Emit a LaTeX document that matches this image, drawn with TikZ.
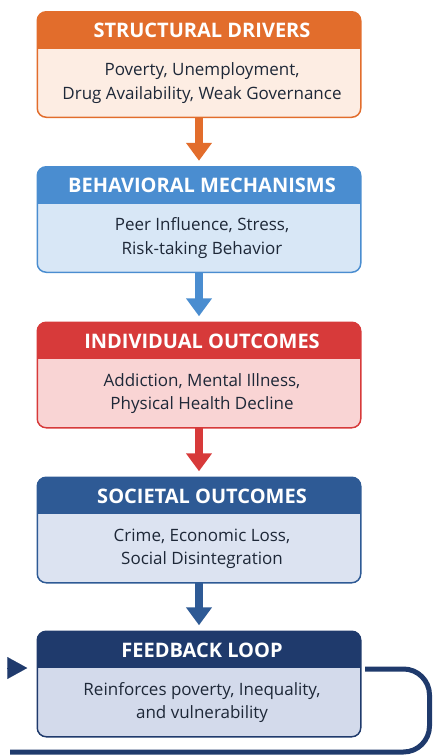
\documentclass[tikz,border=0pt]{standalone}
\usepackage{fontspec}
\setmainfont{Open Sans}
\usetikzlibrary{arrows.meta}

% stage colours: header/border, body fill
\definecolor{orangeH}{HTML}{E26D2C}
\definecolor{orangeB}{HTML}{FDEDE3}
\definecolor{blueH}{HTML}{4A8DD0}
\definecolor{blueB}{HTML}{D8E7F6}
\definecolor{redH}{HTML}{D73A3A}
\definecolor{redB}{HTML}{F9D4D4}
\definecolor{navyH}{HTML}{2E5A95}
\definecolor{navyB}{HTML}{DCE3F1}
\definecolor{darkH}{HTML}{1F3A6C}
\definecolor{darkB}{HTML}{D3DAEB}
\definecolor{inkc}{HTML}{1E2838}

\tikzset{
  stageframe/.style={minimum width=322pt, minimum height=104pt, inner sep=0pt,
    rounded corners=9pt, line width=1.5pt},
  stagetitle/.style={text=white, font=\fontsize{20}{22}\selectfont\bfseries, inner sep=0pt},
  stagetext/.style={text=inkc, align=center, font=\fontsize{17}{23.5}\selectfont, inner sep=0pt},
  flowarrow/.style={line width=8pt, -{Triangle[length=18pt,width=25pt]}, shorten >=6pt},
  loopline/.style={line width=5pt, draw=darkH, rounded corners=26pt},
}

% #1 name, #2 centre y, #3 header colour, #4 body colour, #5 title, #6 body text
\newcommand{\stagebox}[6]{%
  \node[stageframe, fill=#4] (#1) at (199,#2) {};
  \begin{scope}
    \clip[rounded corners=9pt] (#1.south west) rectangle (#1.north east);
    \fill[#3] (#1.north west) rectangle ([yshift=-37pt]#1.north east);
  \end{scope}
  \draw[#3, rounded corners=9pt, line width=1.5pt] (#1.south west) rectangle (#1.north east);
  \node[stagetitle] (#1t) at ([xshift=3pt,yshift=-19pt]#1.north) {#5};
  \node[stagetext] (#1d) at ([xshift=3pt,yshift=34pt]#1.south) {#6};
}

\begin{document}
\begin{tikzpicture}[x=1pt,y=-1pt]
  \useasboundingbox (0,0) rectangle (435,755);

  \stagebox{b1}{64.5}{orangeH}{orangeB}{STRUCTURAL DRIVERS}{Poverty, Unemployment,\\Drug Availability, Weak Governance}
  \stagebox{b2}{219.5}{blueH}{blueB}{BEHAVIORAL MECHANISMS}{Peer Influence, Stress,\\Risk-taking Behavior}
  \stagebox{b3}{375}{redH}{redB}{INDIVIDUAL OUTCOMES}{Addiction, Mental Illness,\\Physical Health Decline}
  \stagebox{b4}{530}{navyH}{navyB}{SOCIETAL OUTCOMES}{Crime, Economic Loss,\\Social Disintegration}
  \stagebox{b5}{684}{darkH}{darkB}{FEEDBACK LOOP}{Reinforces poverty, Inequality,\\and vulnerability}

  % downward links between stages
  \draw[flowarrow, orangeH] (b1.south) -- (b2.north);
  \draw[flowarrow, blueH] (b2.south) -- (b3.north);
  \draw[flowarrow, redH] (b3.south) -- (b4.north);
  \draw[flowarrow, navyH] (b4.south) -- (b5.north);

  % feedback loop wrapping round the last stage
  \coordinate (loopstart) at (365,669);
  \coordinate (loopend) at (10,752);
  \draw[loopline] (loopstart) -- (429.5,669) -- (429.5,752) -- (loopend);
  \coordinate (loopin) at (8,668);
  \draw[darkH, line width=0.1pt, -{Triangle[length=20pt,width=22pt]}, shorten >=10pt]
    (loopin) -- (b5.west |- loopin);
\end{tikzpicture}
\end{document}
